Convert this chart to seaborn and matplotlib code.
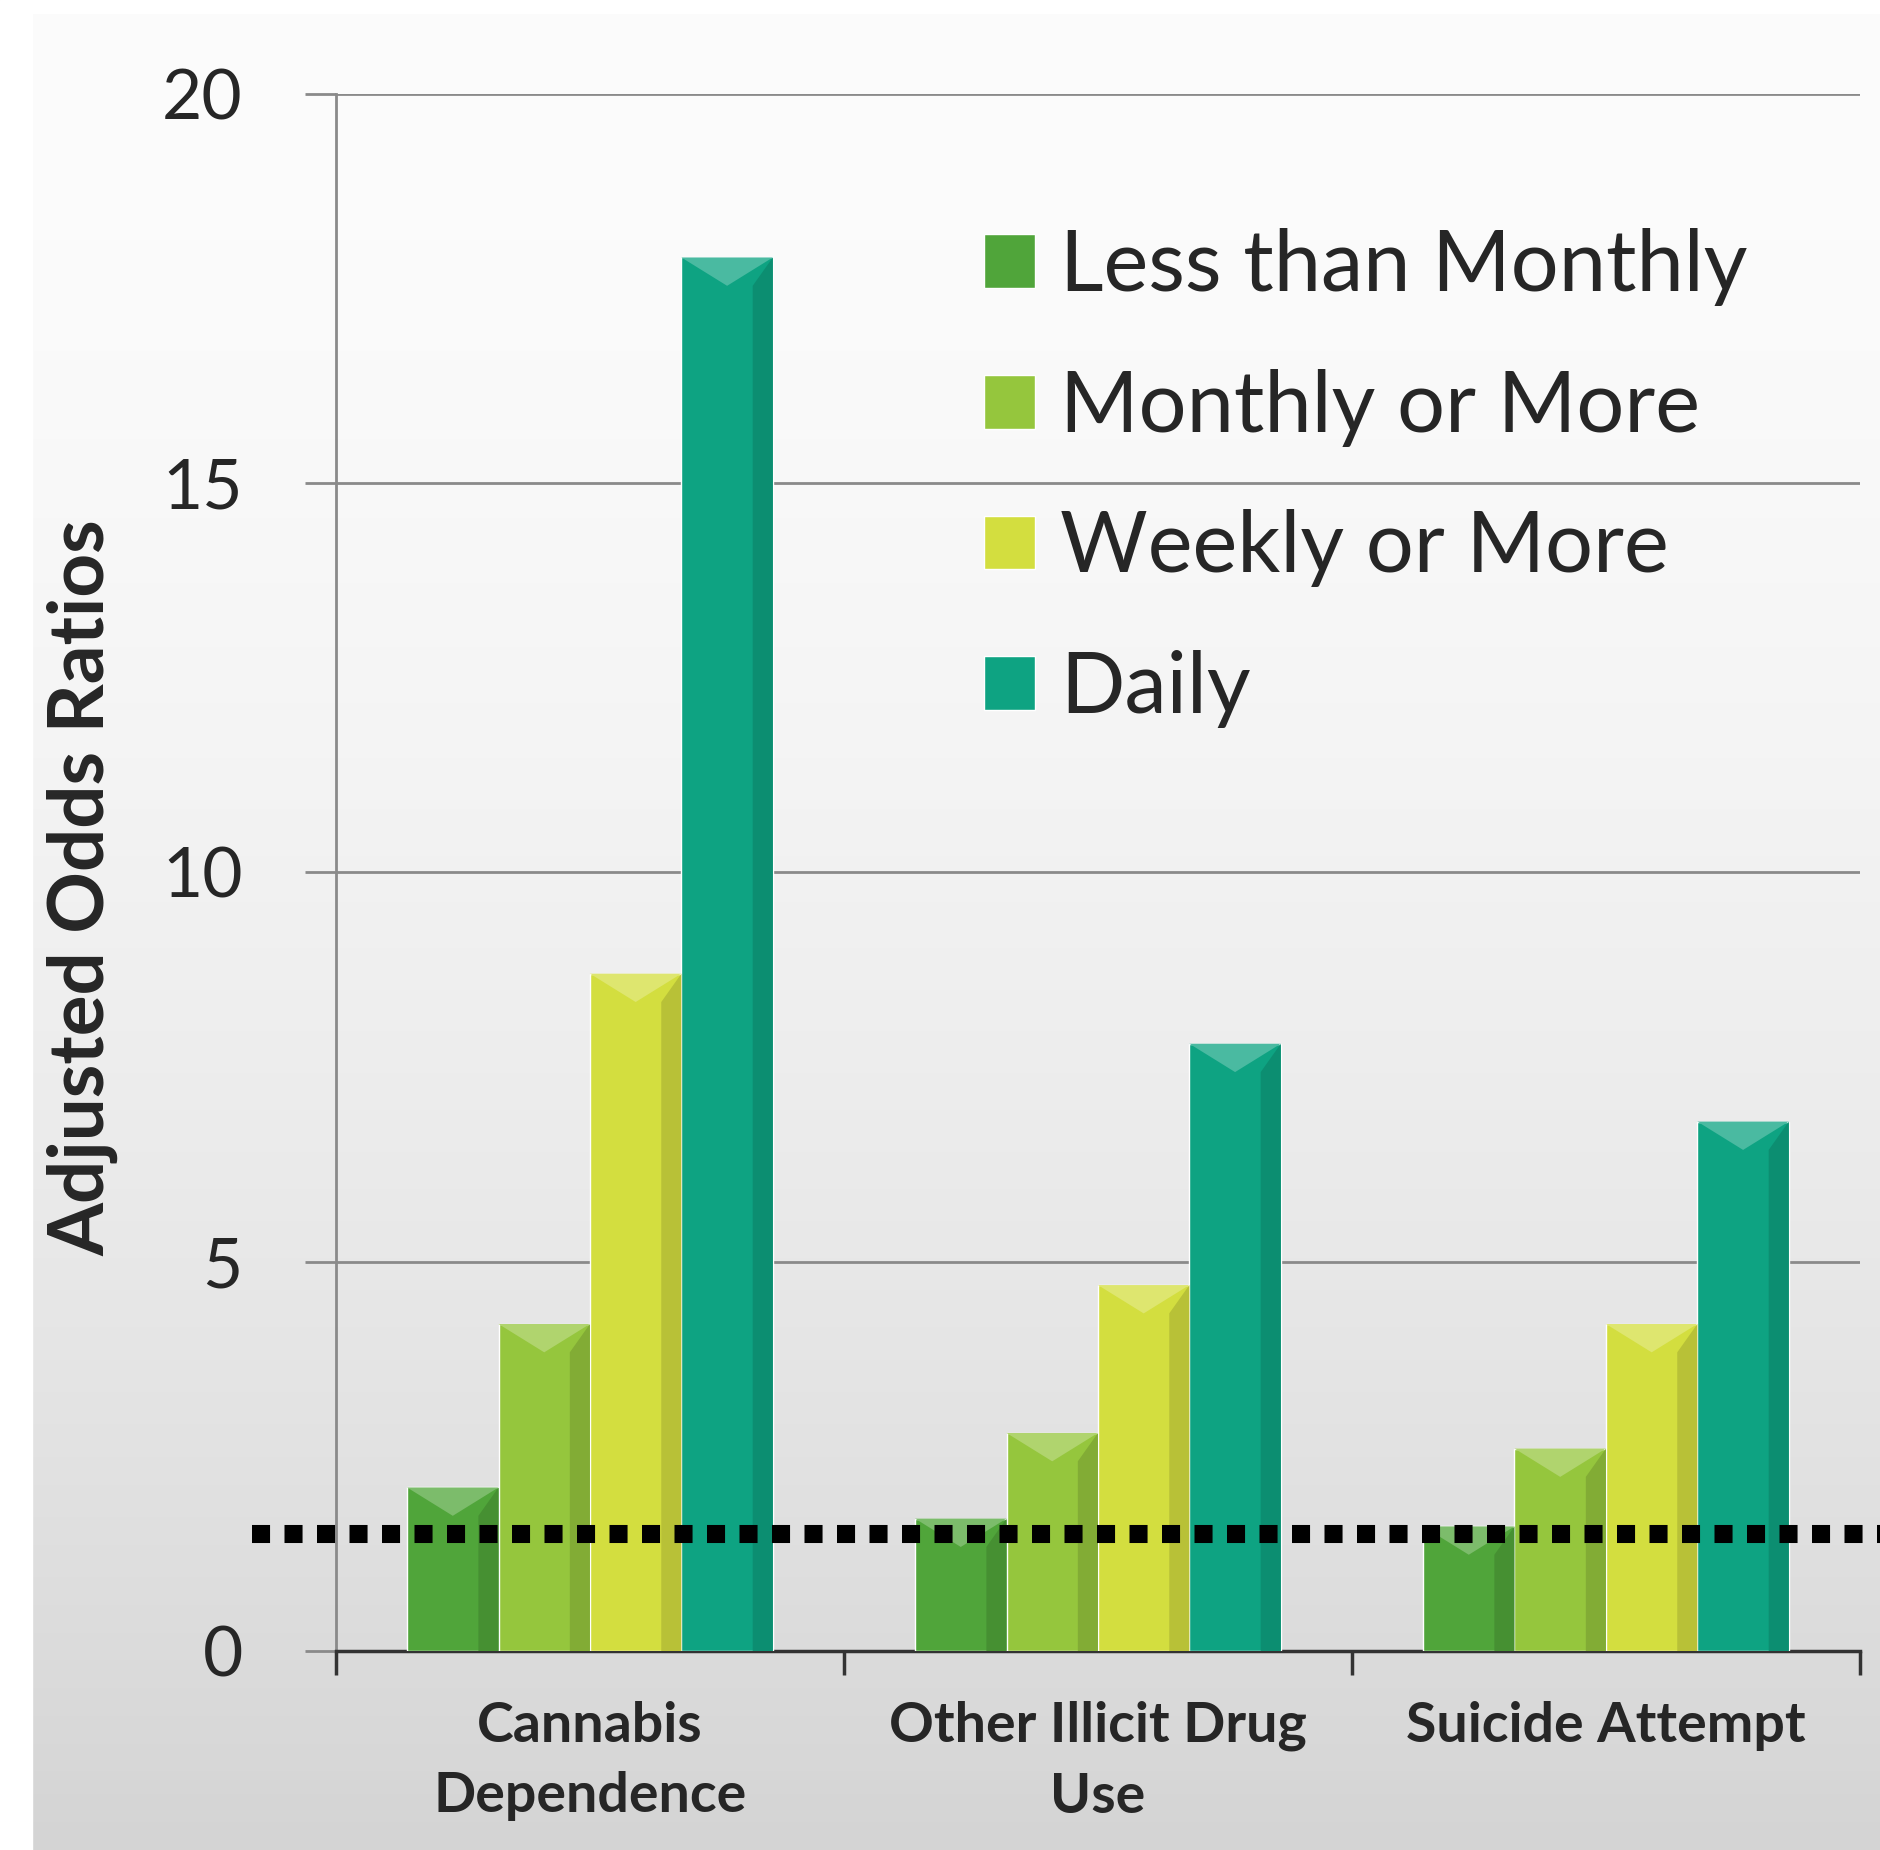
import numpy as np
import pandas as pd
import matplotlib.pyplot as plt
import matplotlib.colors as mcolors
from matplotlib.patches import Polygon
import seaborn as sns

# Data
outcomes = ['Cannabis\nDependence', 'Other Illicit Drug\nUse', 'Suicide Attempt']
frequencies = ['Less than Monthly', 'Monthly or More', 'Weekly or More', 'Daily']
less_than_monthly = [2.1, 1.7, 1.6]
monthly_or_more = [4.2, 2.8, 2.6]
weekly_or_more = [8.7, 4.7, 4.2]
daily = [17.9, 7.8, 6.8]
reference_line = 1.5
y_ticks = [0, 5, 10, 15, 20]

colors = ['#50a53a', '#95c63d', '#d3de3f', '#0ea382']

rows = []
for freq, vals in zip(frequencies, [less_than_monthly, monthly_or_more, weekly_or_more, daily]):
    for outcome, v in zip(outcomes, vals):
        rows.append({'outcome': outcome, 'frequency': freq, 'odds_ratio': v})
df = pd.DataFrame(rows)

sns.set_theme(style='white')
plt.rcParams['font.family'] = ['Lato', 'DejaVu Sans']

fig = plt.figure(figsize=(18.81, 18.5), dpi=100)

# background gradient
bg = fig.add_axes([0, 0, 1, 1], zorder=-10)
t = np.linspace(0, 1, 400)
shade = (252 - 40 * t ** 1.8) / 255
grad = np.repeat(shade[:, None], 3, axis=1)[:, None, :]
bg.imshow(grad, aspect='auto', extent=[0, 1, 0, 1])
bg.axvspan(0, 32 / 1881, color='white')
bg.axhspan(1 - 13 / 1850, 1, color='white')
bg.set_xlim(0, 1)
bg.set_ylim(0, 1)
bg.axis('off')

ax = fig.add_axes([0.1786, 0.1076, 0.8102, 0.8416])
ax.patch.set_alpha(0)

sns.barplot(data=df, x='outcome', y='odds_ratio', hue='frequency', order=outcomes,
            hue_order=frequencies, palette=colors, saturation=1, width=0.72,
            ax=ax, zorder=3)

# bevel shading on bars
fig.canvas.draw()
for bar in ax.patches:
    if bar.get_height() <= 0:
        continue
    x0 = bar.get_x()
    w = bar.get_width()
    top = bar.get_height()
    base = mcolors.to_rgb(bar.get_facecolor())
    px = ax.transData.transform([(x0, 0), (x0 + w, 0)])
    bar_px = px[1, 0] - px[0, 0]
    per_unit = ax.transData.transform([(0, 1)])[0, 1] - ax.transData.transform([(0, 0)])[0, 1]
    tri_h = 0.33 * bar_px / per_unit
    light = tuple(min(1, c * 0.75 + 0.25) for c in base)
    dark = tuple(c * 0.87 for c in base)
    ax.add_patch(Polygon([(x0 + w * 0.78, 0), (x0 + w, 0), (x0 + w, top), (x0 + w * 0.78, top - tri_h)],
                         closed=True, facecolor=dark, edgecolor='none', zorder=3.5))
    ax.add_patch(Polygon([(x0, top), (x0 + w, top), (x0 + w * 0.5, top - tri_h)],
                         closed=True, facecolor=light, edgecolor='none', zorder=3.6))

ax.axhline(reference_line, xmin=-0.055, xmax=1.02, color='black', linewidth=13,
           linestyle=(0, (1.0, 0.8)), dash_capstyle='butt', clip_on=False, zorder=5)

ax.set_ylim(0, 20)
ax.set_xlim(-0.5, 2.5)
ax.set_yticks(y_ticks)
ax.set_yticklabels([str(v) for v in y_ticks], fontsize=50)
ax.yaxis.grid(True, color='#8a8a8a', linewidth=2, zorder=0)
ax.set_axisbelow(True)
ax.tick_params(axis='y', length=22, width=2, color='#8a8a8a', pad=45, left=True)

ax.set_xticks(range(len(outcomes)))
ax.set_xticklabels(outcomes, fontsize=40, fontweight='bold', linespacing=1.5)
ax.tick_params(axis='x', length=0, pad=36)
ax.set_xticks([-0.5, 0.5, 1.5, 2.5], minor=True)
ax.tick_params(axis='x', which='minor', length=17, width=2.5, color='#333333', bottom=True)

for s in ['top', 'right']:
    ax.spines[s].set_visible(False)
ax.spines['left'].set_color('#8a8a8a')
ax.spines['left'].set_linewidth(2)
ax.spines['bottom'].set_color('#333333')
ax.spines['bottom'].set_linewidth(2.5)

ax.set_xlabel('')
ax.set_ylabel('Adjusted Odds Ratios', fontsize=55, fontweight='bold')
ax.yaxis.set_label_coords(-0.166, 0.49)
ax.yaxis.label.set_va('center')

handles, labels = ax.get_legend_handles_labels()
ax.legend(handles, labels, loc='upper left', bbox_to_anchor=(984 / 1881, 1 - 228 / 1850),
          bbox_transform=fig.transFigure, frameon=False, fontsize=61, borderpad=0,
          handlelength=0.6, handleheight=0.6, handletextpad=0.3, labelspacing=0.74,
          borderaxespad=0)

fig.savefig('out.png', dpi=100)
